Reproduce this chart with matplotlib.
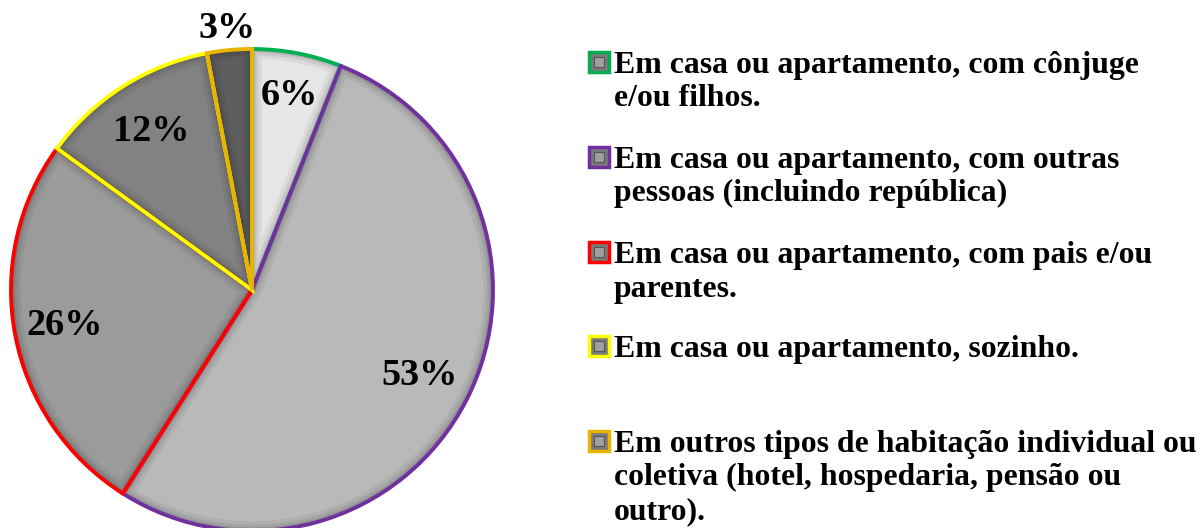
import numpy as np
import matplotlib.pyplot as plt
from matplotlib.patches import Wedge, Rectangle

# dados do gráfico
valores = [6, 53, 26, 12, 3]
rotulos = ["6%", "53%", "26%", "12%", "3%"]
legenda = [
    ["Em casa ou apartamento, com cônjuge", "e/ou filhos."],
    ["Em casa ou apartamento, com outras", "pessoas (incluindo república)"],
    ["Em casa ou apartamento, com pais e/ou", "parentes."],
    ["Em casa ou apartamento, sozinho."],
    ["Em outros tipos de habitação individual ou",
     "coletiva (hotel, hospedaria, pensão ou", "outro)."],
]
preenchimento = ["#e6e6e6", "#b9b9b9", "#9b9b9b", "#828282", "#5e5e5e"]
bordas = ["#00b050", "#7030a0", "#ff0000", "#ffff00", "#e8b400"]

W, H = 1203, 528
fig = plt.figure(figsize=(W / 100, H / 100), dpi=100)
ax = fig.add_axes([0, 0, 1, 1])

cx, cy, r = 252, H - 290, 241

wedges, _ = ax.pie(valores, startangle=90, counterclock=False,
                   center=(cx, cy), radius=r,
                   colors=preenchimento,
                   wedgeprops=dict(edgecolor="none", linewidth=0))

# sombra interna (efeito chanfrado) recortada em cada fatia
for w in wedges:
    for lw, a in [(14, 0.05), (9, 0.07), (5, 0.10)]:
        s = Wedge(w.center, w.r, w.theta1, w.theta2, facecolor="none",
                  edgecolor="black", linewidth=lw, alpha=a, zorder=2)
        ax.add_patch(s)
        s.set_clip_path(w)

# bordas coloridas
for w, c in zip(wedges, bordas):
    b = Wedge(w.center, w.r, w.theta1, w.theta2, facecolor="none",
              edgecolor=c, linewidth=2.8, zorder=3, joinstyle="miter")
    ax.add_patch(b)

# rótulos percentuais
dist = [0.82, 0.78, 0.79, 0.78, 1.09]
for w, txt, d in zip(wedges, rotulos, dist):
    ang = np.deg2rad((w.theta1 + w.theta2) / 2)
    ax.text(cx + d * r * np.cos(ang), cy + d * r * np.sin(ang), txt,
            ha="center", va="center", fontsize=27.5, fontweight="bold",
            family="Liberation Serif", color="black", zorder=5)

# legenda manual
base_y = [73, 168, 263, 357, 452]
passo = 33.5
for linhas, c, y0 in zip(legenda, bordas, base_y):
    ax.add_patch(Rectangle((589, H - y0 + 1), 20, 20, facecolor="#7a7a7a",
                           edgecolor=c, linewidth=2.5, zorder=4))
    ax.add_patch(Rectangle((594, H - y0 + 6), 10, 10, facecolor="#a0a0a0",
                           edgecolor="#555555", linewidth=0.8, zorder=5))
    for i, ln in enumerate(linhas):
        ax.text(614, H - (y0 + i * passo), ln, ha="left", va="baseline",
                fontsize=22.9, fontweight="bold", family="Liberation Serif",
                color="black")

ax.set_xlim(0, W)
ax.set_ylim(0, H)
ax.set_aspect("auto")
ax.axis("off")

fig.savefig("out.png", dpi=100)
